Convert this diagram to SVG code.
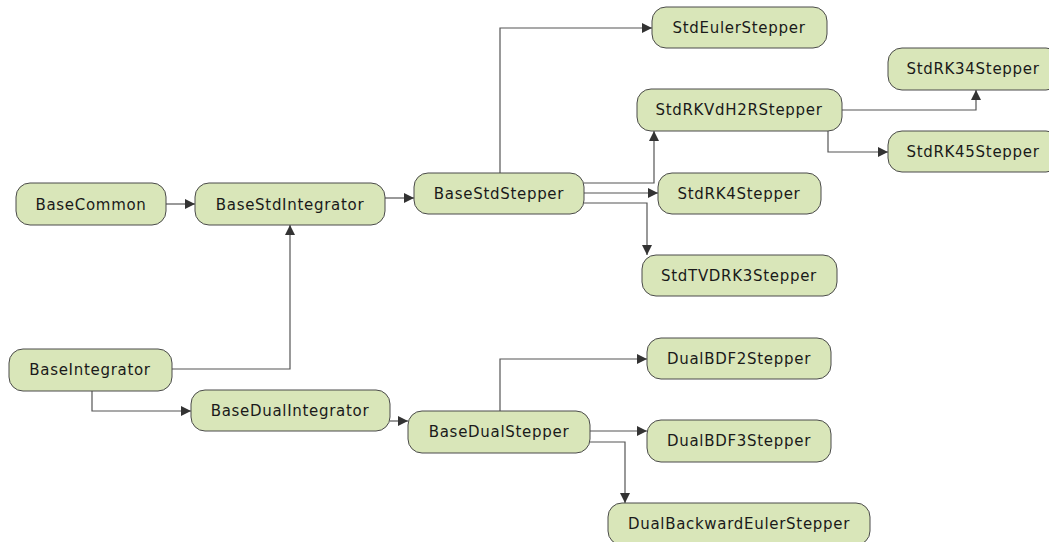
<svg xmlns="http://www.w3.org/2000/svg" width="1049" height="542" viewBox="0 0 1049 542">
<defs>
<style>
.node rect{fill:#d9e6b9;stroke:#4a4a4a;stroke-width:1}
.node text{font-family:"DejaVu Sans",sans-serif;font-size:15px;letter-spacing:0.7px;fill:#1a1a1a;text-anchor:middle}
.edges path{fill:none;stroke:#555555;stroke-width:1.2}
</style>
<marker id="ah" viewBox="0 0 10 10" refX="10" refY="5" markerWidth="14" markerHeight="10" markerUnits="userSpaceOnUse" orient="auto">
<path d="M0,0 L10,5 L0,10 z" fill="#333333"/>
</marker>
</defs>
<rect width="1049" height="542" fill="#ffffff"/>
<g class="edges">
<path d="M166,204 H195" marker-end="url(#ah)"/>
<path d="M385,198 H414" marker-end="url(#ah)"/>
<path d="M172,369 H290 V225" marker-end="url(#ah)"/>
<path d="M92,391 V411 H191" marker-end="url(#ah)"/>
<path d="M390,421 H408" marker-end="url(#ah)"/>
<path d="M500,173 V28 H652" marker-end="url(#ah)"/>
<path d="M584,183 H654 V131" marker-end="url(#ah)"/>
<path d="M584,193 H658" marker-end="url(#ah)"/>
<path d="M584,203 H647 V255" marker-end="url(#ah)"/>
<path d="M842,110 H976 V90" marker-end="url(#ah)"/>
<path d="M828,131 V152 H888" marker-end="url(#ah)"/>
<path d="M500,411 V359 H647" marker-end="url(#ah)"/>
<path d="M590,431 H647" marker-end="url(#ah)"/>
<path d="M590,442 H625 V503" marker-end="url(#ah)"/>
</g>
<g id="BaseCommon" class="node"><rect x="16" y="183" width="150" height="42" rx="14"/><text x="91" y="209.5">BaseCommon</text></g>
<g id="BaseStdIntegrator" class="node"><rect x="195" y="183" width="190" height="42" rx="14"/><text x="290" y="209.5">BaseStdIntegrator</text></g>
<g id="BaseStdStepper" class="node"><rect x="414" y="173" width="170" height="41" rx="14"/><text x="499" y="198.5">BaseStdStepper</text></g>
<g id="StdEulerStepper" class="node"><rect x="652" y="7" width="175" height="41" rx="14"/><text x="739" y="32.5">StdEulerStepper</text></g>
<g id="StdRKVdH2RStepper" class="node"><rect x="637" y="89" width="205" height="42" rx="14"/><text x="739" y="114.5">StdRKVdH2RStepper</text></g>
<g id="StdRK4Stepper" class="node"><rect x="658" y="173" width="163" height="41" rx="14"/><text x="739" y="198.5">StdRK4Stepper</text></g>
<g id="StdTVDRK3Stepper" class="node"><rect x="642" y="255" width="195" height="41" rx="14"/><text x="739" y="280.5">StdTVDRK3Stepper</text></g>
<g id="StdRK34Stepper" class="node"><rect x="888" y="48" width="172" height="42" rx="14"/><text x="973" y="73.5">StdRK34Stepper</text></g>
<g id="StdRK45Stepper" class="node"><rect x="888" y="131" width="172" height="41" rx="14"/><text x="973" y="156.5">StdRK45Stepper</text></g>
<g id="BaseIntegrator" class="node"><rect x="9" y="349" width="163" height="42" rx="14"/><text x="90" y="374.5">BaseIntegrator</text></g>
<g id="BaseDualIntegrator" class="node"><rect x="191" y="390" width="199" height="41" rx="14"/><text x="290" y="415.5">BaseDualIntegrator</text></g>
<g id="BaseDualStepper" class="node"><rect x="408" y="411" width="182" height="42" rx="14"/><text x="499" y="436.5">BaseDualStepper</text></g>
<g id="DualBDF2Stepper" class="node"><rect x="647" y="338" width="184" height="41" rx="14"/><text x="739" y="363.5">DualBDF2Stepper</text></g>
<g id="DualBDF3Stepper" class="node"><rect x="647" y="420" width="184" height="42" rx="14"/><text x="739" y="445.5">DualBDF3Stepper</text></g>
<g id="DualBackwardEulerStepper" class="node"><rect x="608" y="503" width="262" height="42" rx="14"/><text x="739" y="528.5">DualBackwardEulerStepper</text></g>
</svg>
